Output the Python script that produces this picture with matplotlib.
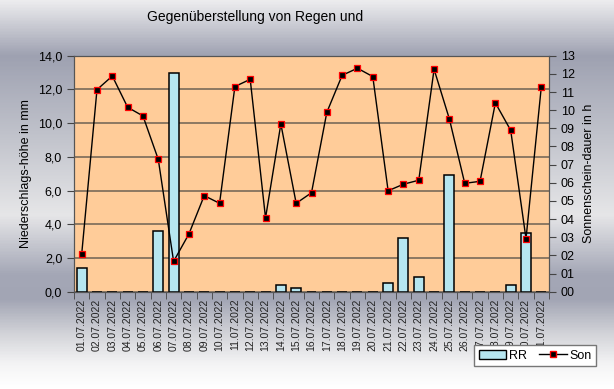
import numpy as np
import matplotlib
matplotlib.use("Agg")
import matplotlib.pyplot as plt
from matplotlib.colors import LinearSegmentedColormap
from matplotlib.patches import Patch
from matplotlib.lines import Line2D

plt.rcParams['font.family'] = ['Liberation Sans', 'DejaVu Sans']

days = ["%02d.07.2022" % d for d in range(1, 32)]
rr = [1.4, 0, 0, 0, 0, 3.6, 13.0, 0, 0, 0, 0, 0, 0, 0.4, 0.2, 0,
      0, 0, 0, 0, 0.5, 3.2, 0.9, 0, 6.9, 0, 0, 0, 0.4, 3.5, 0]
son = [2.05, 11.13, 11.88, 10.16, 9.68, 7.29, 1.67, 3.18, 5.29, 4.87, 11.30,
       11.70, 4.06, 9.24, 4.87, 5.45, 9.88, 11.92, 12.31, 11.85, 5.56, 5.92,
       6.14, 12.25, 9.51, 5.97, 6.08, 10.40, 8.89, 2.92, 11.30]
left_ticks = np.arange(0, 15, 2)
left_labels = ["%.1f" % v for v in left_ticks]
left_labels = [s.replace(".", ",") for s in left_labels]
right_ticks = np.arange(0, 14)
right_labels = ["%02d" % v for v in right_ticks]

W, H = 614, 389
fig = plt.figure(figsize=(W / 100, H / 100), dpi=100)

# grey gradient background
bg = fig.add_axes([0, 0, 1, 1], zorder=-5)
stops = [(0.0, "#ececee"), (55 / H, "#9ea1b1"), (140 / H, "#c3c5cd"),
         (215 / H, "#e6e6e8"), (275 / H, "#a4a7b6"), (300 / H, "#a2a5b4"),
         (335 / H, "#d3d4d9"), (365 / H, "#f4f4f5"), (1.0, "#ffffff")]
cmap = LinearSegmentedColormap.from_list("bg", stops)
grad = np.linspace(0, 1, 400).reshape(-1, 1)
bg.imshow(grad, cmap=cmap, aspect="auto", extent=[0, 1, 0, 1], origin="upper")
bg.axis("off")

ax = fig.add_axes([74 / W, 1 - 291.7 / H, 475 / W, 236 / H])
ax.set_facecolor("#ffcc99")
x = np.arange(len(days))
ax.bar(x, rr, width=0.65, color="#b6e6f0", edgecolor="black", linewidth=1.1, zorder=3)
ax.set_xlim(-0.5, len(days) - 0.5)
ax.set_ylim(0, 14)
ax.set_yticks(left_ticks)
ax.set_yticklabels(left_labels, fontsize=9)
ax.yaxis.grid(True, color="#6e6253", linewidth=1.1)
ax.set_axisbelow(True)
ax.set_xticks(x)
ax.set_xticklabels(days, rotation=90, fontsize=7.5)
ax.tick_params(axis="x", length=0, pad=5, colors="#222222")
ax.set_xticks(np.arange(-0.5, len(days)), minor=True)
ax.tick_params(axis="x", which="minor", length=5, color="#444444")
ax.tick_params(axis="y", length=5, color="#444444")
ax.set_ylabel("Niederschlags-höhe in mm", fontsize=9)
for s in ax.spines.values():
    s.set_color("#555555")

ax2 = ax.twinx()
ax2.plot(x, son, color="black", linewidth=1, marker="s", markersize=4.5,
         markerfacecolor="black", markeredgecolor="red", markeredgewidth=0.9, zorder=4)
ax2.set_ylim(0, 13)
ax2.set_yticks(right_ticks)
ax2.set_yticklabels(right_labels, fontsize=9)
ax2.tick_params(axis="y", length=5, color="#444444")
ax2.set_ylabel("Sonnenschein-dauer in h", fontsize=9, labelpad=6)
for s in ax2.spines.values():
    s.set_color("#555555")

fig.text(255 / W, 1 - 17 / H, "Gegenüberstellung von Regen und", ha="center",
         va="center", fontsize=10)

handles = [Patch(facecolor="#b6e6f0", edgecolor="black", linewidth=1),
           Line2D([], [], color="black", linewidth=1, marker="s", markersize=4.5,
                  markerfacecolor="black", markeredgecolor="red")]
leg = fig.legend(handles, ["RR", "Son"], loc="upper left", ncol=2,
                 bbox_to_anchor=(468 / W, 1 - 339 / H), fontsize=9,
                 frameon=True, fancybox=False, edgecolor="#777777",
                 handlelength=2.2, handletextpad=0.2, columnspacing=1.0,
                 borderpad=0.35)
leg.get_frame().set_facecolor("white")
leg.get_frame().set_alpha(1)

fig.savefig("out.png", dpi=100)
